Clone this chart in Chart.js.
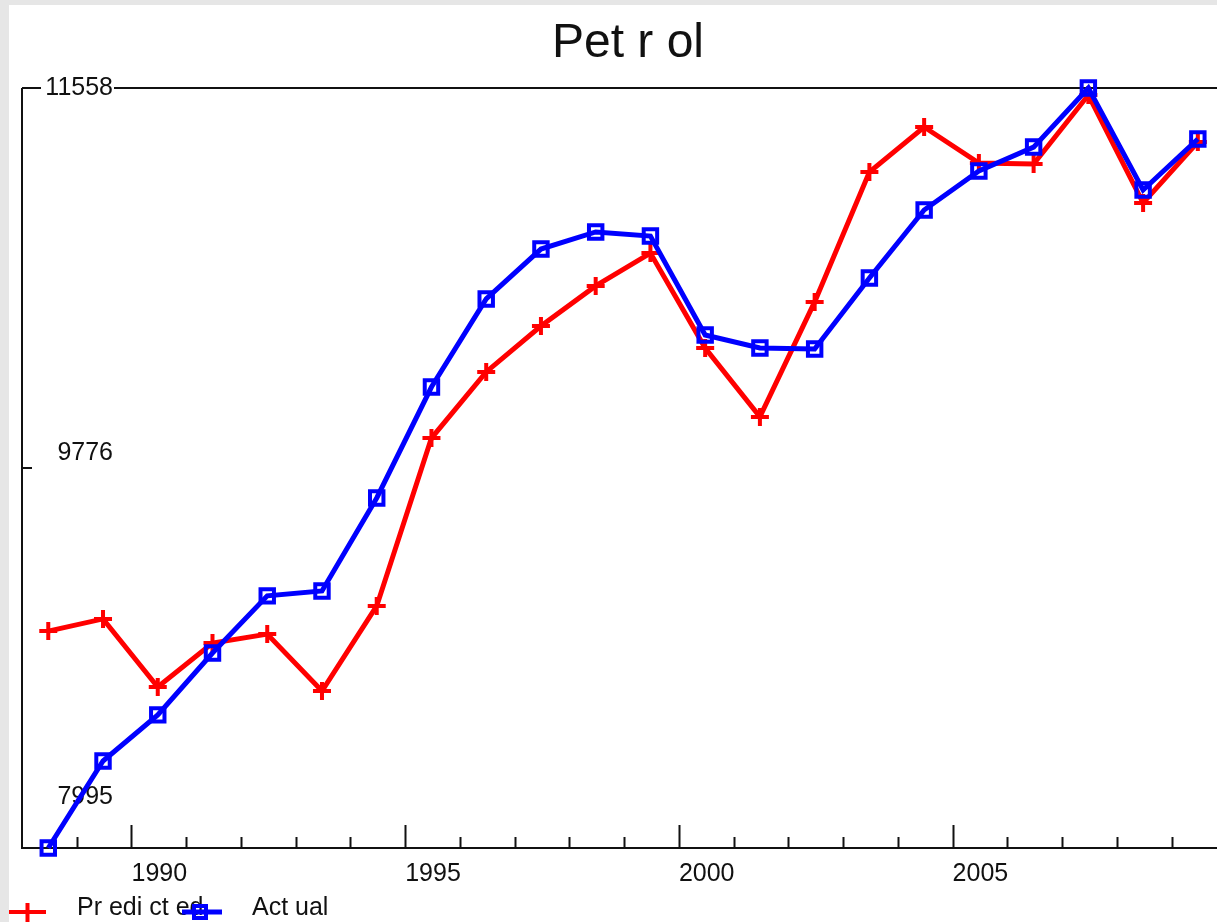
<!DOCTYPE html>
<html>
<head>
<meta charset="utf-8">
<title>Pet r ol</title>
<script src="https://cdn.jsdelivr.net/npm/chart.js@4.4.0/dist/chart.umd.min.js"></script>
<style>
  html, body { margin: 0; padding: 0; background: #e6e6e6; overflow: hidden; }
  canvas { display: block; }
</style>
</head>
<body>
<canvas id="chart" width="1217" height="922"></canvas>
<script>
// Datos
const years = [1988, 1989, 1990, 1991, 1992, 1993, 1994, 1995, 1996, 1997, 1998,
  1999, 2000, 2001, 2002, 2003, 2004, 2005, 2006, 2007, 2008, 2009];
const predicted = [9012, 9069, 8750, 8956, 8998, 8731, 9130, 9917, 10227, 10442, 10630,
  10784, 10339, 10016, 10555, 11164, 11375, 11206, 11202, 11525, 11019, 11305];
const actual = [7995, 8403, 8619, 8909, 9177, 9200, 9636, 10156, 10569, 10803, 10883,
  10864, 10400, 10339, 10334, 10667, 10986, 11169, 11281, 11558, 11080, 11319];
const majorYears = [1990, 1995, 2000, 2005];
const yTicks = [11558, 9776, 7995];
const chartTitle = 'Pet r ol';

const FONT = "'Liberation Sans', Arial, sans-serif";
const INK = '#111';

// Marco, ejes, título y leyenda al estilo del original
const frame = {
  id: 'frame',
  beforeDraw(chart) {
    const c = chart.ctx;
    c.save();
    c.fillStyle = '#e6e6e6';
    c.fillRect(0, 0, chart.width, chart.height);
    c.fillStyle = '#ffffff';
    c.fillRect(9, 5, chart.width - 9, chart.height - 5);
    c.restore();
  },
  beforeDatasetsDraw(chart) {
    const { ctx: c, chartArea: a, scales: { x, y } } = chart;
    c.save();
    c.fillStyle = INK;
    c.font = '48px ' + FONT;
    c.textAlign = 'center';
    c.textBaseline = 'alphabetic';
    c.fillText(chartTitle, 628, 57);

    c.strokeStyle = INK;
    c.lineWidth = 2;
    c.beginPath();
    c.moveTo(a.left, y.getPixelForValue(yTicks[0]));
    c.lineTo(a.right, y.getPixelForValue(yTicks[0]));
    c.moveTo(a.left, a.top);
    c.lineTo(a.left, a.bottom);
    c.lineTo(a.right, a.bottom);
    c.stroke();

    // ticks del eje x (hacia dentro)
    c.beginPath();
    for (let yr = years[0] + 1; yr <= years[years.length - 1]; yr++) {
      const px = Math.round(x.getPixelForValue(yr)) + 0.5;
      const len = majorYears.includes(yr) ? 23 : 11;
      c.moveTo(px, a.bottom);
      c.lineTo(px, a.bottom - len);
    }
    // tick del valor medio
    const midPx = y.getPixelForValue(yTicks[1]);
    c.moveTo(a.left, midPx);
    c.lineTo(a.left + 10, midPx);
    c.stroke();

    c.font = '25px ' + FONT;
    c.textBaseline = 'middle';
    c.textAlign = 'left';
    majorYears.forEach(yr => {
      c.fillText(String(yr), x.getPixelForValue(yr), a.bottom + 26);
    });

    // etiquetas del eje y
    const yOffsets = [0, 15, 51];
    c.textAlign = 'right';
    yTicks.forEach((v, i) => {
      const py = y.getPixelForValue(v) - yOffsets[i];
      if (i === 0) {
        c.fillStyle = '#ffffff';
        c.fillRect(41, py - 4, 73, 8);
        c.fillStyle = INK;
      }
      c.fillText(String(v), 113, py);
    });
    c.restore();
  },
  afterDraw(chart) {
    const c = chart.ctx;
    const ds = chart.data.datasets;
    const ly = 912;
    c.save();
    c.font = '25px ' + FONT;
    c.textBaseline = 'alphabetic';
    c.textAlign = 'left';
    c.fillStyle = INK;
    c.fillText(ds[0].label, 77, 915);
    c.fillText(ds[1].label, 252, 915);

    c.lineWidth = 4;
    c.strokeStyle = ds[0].borderColor;
    c.beginPath();
    c.moveTo(9, ly); c.lineTo(46, ly);
    c.moveTo(27.5, ly - 9); c.lineTo(27.5, ly + 10);
    c.stroke();

    c.strokeStyle = ds[1].borderColor;
    c.lineWidth = 5;
    c.beginPath();
    c.moveTo(182, ly); c.lineTo(222, ly);
    c.stroke();
    c.lineWidth = 4;
    c.strokeRect(194, ly - 6, 12, 12);
    c.restore();
  },
};

new Chart(document.getElementById('chart'), {
  type: 'line',
  data: {
    datasets: [
      {
        label: 'Pr edi ct ed',
        data: years.map((yr, i) => ({ x: yr + 0.48, y: predicted[i] })),
        borderColor: '#ff0000',
        backgroundColor: '#ff0000',
        borderWidth: 5,
        pointStyle: 'cross',
        pointRadius: 9,
        pointBorderWidth: 4,
        pointBorderColor: '#ff0000',
        tension: 0,
        clip: false,
        order: 1,
      },
      {
        label: 'Act ual',
        data: years.map((yr, i) => ({ x: yr + 0.48, y: actual[i] })),
        borderColor: '#0000ff',
        backgroundColor: 'rgba(0,0,0,0)',
        borderWidth: 5,
        pointStyle: 'rect',
        pointRadius: 9.5,
        pointBorderWidth: 4,
        pointBorderColor: '#0000ff',
        tension: 0,
        clip: false,
        order: 0,
      },
    ],
  },
  options: {
    responsive: false,
    animation: false,
    layout: { autoPadding: false, padding: { left: 22, top: 88, right: 0, bottom: 74 } },
    plugins: {
      legend: { display: false },
      tooltip: { enabled: false },
      title: { display: false },
    },
    scales: {
      x: { type: 'linear', display: false, min: 1988, max: 2009.83 },
      y: { type: 'linear', display: false, min: 7995, max: 11558 },
    },
  },
  plugins: [frame],
});
</script>
</body>
</html>
